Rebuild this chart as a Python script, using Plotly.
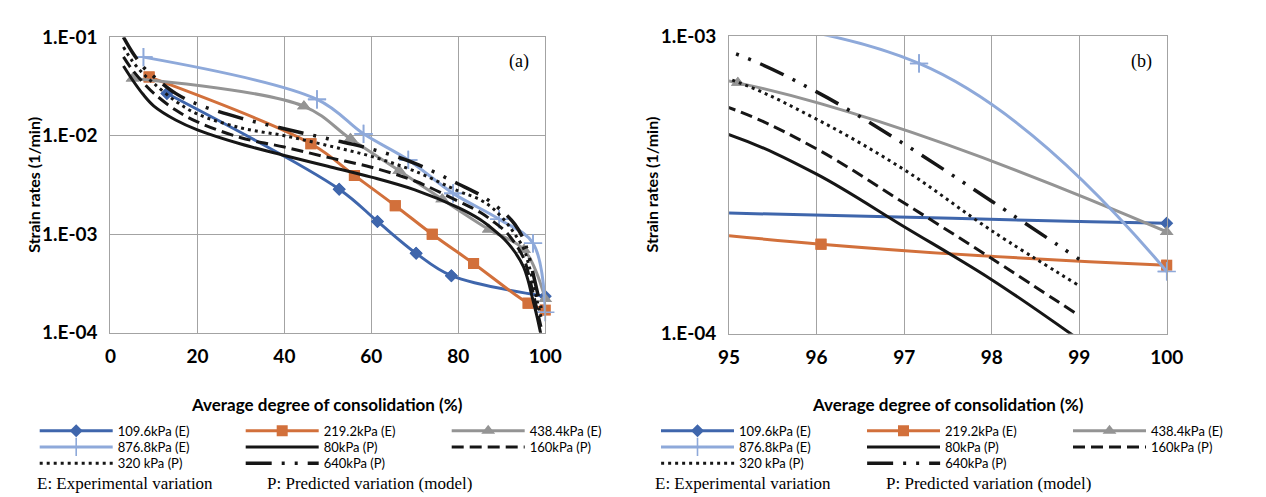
import plotly.graph_objects as go

# ---------------- data ----------------
# Experimental (E) series: average degree of consolidation (%) and strain rate (1/min)
u_e109 = [13.0, 52.6, 61.4, 70.3, 78.4, 100.0]
r_e109 = [0.0268, 0.00287, 0.00135, 0.00064, 0.00038, 0.000235]

u_e219 = [8.9, 46.1, 56.1, 65.5, 74.0, 83.5, 96.05, 100.0]
r_e219 = [0.0395, 0.0083, 0.00395, 0.00195, 0.0010, 0.000505, 0.000200, 0.000170]

u_e438 = [5.1, 44.5, 55.2, 66.4, 76.3, 87.0, 95.1, 100.0]
r_e438 = [0.0381, 0.0199, 0.00929, 0.00442, 0.00226, 0.00112, 0.000697, 0.000220]

u_e876 = [7.6, 47.5, 58.2, 68.5, 78.8, 89.4, 97.17, 100.0]
r_e876 = [0.0627, 0.0234, 0.01045, 0.00568, 0.0026, 0.00142, 0.00081, 0.000162]

# Predicted (P) model curves
u_model = [3, 5, 7.5, 10, 15, 20, 30, 40, 50, 60, 70, 80, 85, 88, 91, 93, 95, 96, 97, 98, 99]
r_p80 = [0.0509, 0.0372, 0.0263, 0.0200, 0.01445, 0.01148, 0.00824, 0.00631, 0.0049, 0.0038,
         0.00282, 0.00186, 0.00141, 0.00112, 0.000851, 0.000661, 0.000467, 0.000344, 0.000229,
         0.000152, 0.0000955]
r_p160 = [0.0631, 0.0468, 0.0347, 0.0269, 0.0182, 0.0138, 0.00955, 0.00767, 0.00603, 0.00479,
          0.00347, 0.00216, 0.00167, 0.00135, 0.00105, 0.000813, 0.000575, 0.000418, 0.000275,
          0.000179, 0.000115]
r_p320 = [0.0794, 0.0575, 0.0427, 0.0339, 0.0224, 0.0166, 0.0120, 0.0100, 0.00794, 0.00617,
          0.00437, 0.00275, 0.00224, 0.00182, 0.00132, 0.00100, 0.000718, 0.000526, 0.000356,
          0.000222, 0.000145]
r_p640 = [0.100, 0.0708, 0.0501, 0.0398, 0.0269, 0.0209, 0.0151, 0.01175, 0.00933, 0.00733,
          0.00525, 0.00324, 0.00251, 0.00204, 0.00158, 0.00126, 0.000889, 0.00065, 0.000434,
          0.000279, 0.000178]

y_tickvals = [1e-4, 1e-3, 1e-2, 1e-1]
y_ticktext = ["1.E-04", "1.E-03", "1.E-02", "1.E-01"]
xa_ticks = [0, 20, 40, 60, 80, 100]
xb_ticks = [95, 96, 97, 98, 99, 100]

# ---------------- styling ----------------
W, H = 1266, 497
def px(x): return x / W
def py(y): return 1 - y / H

BLUE = "#3F66AC"
ORANGE = "#D2703B"
GRAY = "#949494"
LBLUE = "#8EA9DA"
BLACK = "#161616"
GRID = "#A3A3A3"

# (name, x, y, colour, marker, size, legend row)
exp_series = [
    ("109.6kPa (E)", u_e109, r_e109, BLUE, "diamond", 10, 0),
    ("219.2kPa (E)", u_e219, r_e219, ORANGE, "square", 11, 0),
    ("438.4kPa (E)", u_e438, r_e438, GRAY, "triangle-up", 12, 0),
    ("876.8kPa (E)", u_e876, r_e876, LBLUE, "cross-thin", 13, 1),
]
# (name, y, dash, width, legend row)
model_series = [
    ("80kPa (P)", r_p80, "solid", 3, 1),
    ("160kPa (P)", r_p160, "12px,6px", 3, 1),
    ("320 kPa (P)", r_p320, "3px,4px", 3, 2),
    ("640kPa (P)", r_p640, "26px,10px,3px,10px,3px,10px", 3.5, 2),
]

# legend ids: panel (a) rows -> legend, legend3, legend5 ; panel (b) rows -> legend2, legend4, legend6
def legend_id(panel, row):
    n = 1 + panel + 2 * row
    return "legend" if n == 1 else "legend%d" % n

fig = go.Figure()

panels = [("x", "y", 0, 0, 100), ("x2", "y2", 1, 95, 100)]
for xa, ya, pi, lo, hi in panels:
    for name, u, r, col, sym, size, row in exp_series:
        mline = dict(color=col, width=1.6 if sym == "cross-thin" else 0)
        fig.add_trace(go.Scatter(
            x=u, y=r, name=name, xaxis=xa, yaxis=ya, legend=legend_id(pi, row),
            mode="lines+markers", line=dict(color=col, width=3, shape="spline"),
            marker=dict(symbol=sym, size=size, color=col, line=mline),
        ))
        # unclipped markers for the points inside the visible x-range
        pts = [(a, b) for a, b in zip(u, r) if lo <= a <= hi]
        fig.add_trace(go.Scatter(
            x=[p[0] for p in pts], y=[p[1] for p in pts], xaxis=xa, yaxis=ya,
            mode="markers", showlegend=False, cliponaxis=False, hoverinfo="skip",
            marker=dict(symbol=sym, size=size, color=col, line=mline),
        ))
    for name, r, dash, wd, row in model_series:
        fig.add_trace(go.Scatter(
            x=u_model, y=r, name=name, xaxis=xa, yaxis=ya, legend=legend_id(pi, row),
            mode="lines", line=dict(color=BLACK, width=wd, dash=dash, shape="spline"),
        ))

tickfont = dict(family="Lato", size=19, color="#000000", weight="bold")
axis_common = dict(showgrid=True, gridcolor=GRID, gridwidth=1, showline=True, linecolor=GRID,
                   linewidth=1, mirror=True, zeroline=False, ticks="", tickfont=tickfont)

legend_common = dict(orientation="h", traceorder="normal", xanchor="left", yanchor="top",
                     itemwidth=73, entrywidth=118, entrywidthmode="pixels",
                     font=dict(family="Lato", size=13, color="#000000"),
                     bgcolor="rgba(0,0,0,0)")

layout_legends = {}
row_tops = [415, 432, 449]
for pi, lx in [(0, 17), (1, 690)]:
    for row, top in enumerate(row_tops):
        layout_legends[legend_id(pi, row)] = dict(x=px(lx), y=py(top), **legend_common)

fig.update_layout(
    width=W, height=H, margin=dict(l=0, r=0, t=0, b=0),
    paper_bgcolor="white", plot_bgcolor="white",
    xaxis=dict(domain=[px(99), px(570)], range=[0, 100], tickvals=xa_ticks, anchor="y",
               ticklabelstandoff=6, **axis_common),
    yaxis=dict(domain=[py(328), py(18)], type="log", range=[-4, -1], tickvals=y_tickvals,
               ticktext=y_ticktext, anchor="x", ticklabelstandoff=8, **axis_common),
    xaxis2=dict(domain=[px(769), px(1243)], range=[95, 100], tickvals=xb_ticks, anchor="y2",
                ticklabelstandoff=6, **axis_common),
    yaxis2=dict(domain=[py(329), py(17)], type="log", range=[-4, -3], tickvals=y_tickvals,
                ticktext=y_ticktext, anchor="x2", ticklabelstandoff=8, **axis_common),
    showlegend=True,
    **layout_legends,
)

ann = []
title_font = dict(family="Lato", size=17, color="#000000", weight="bold")
serif = dict(family="Liberation Serif", size=18, color="#000000")
serif_foot = dict(family="Liberation Serif", size=17, color="#000000")
for cx, ylab_x, lab, labx in [(334, 16, "(a)", 541), (1006, 685, "(b)", 1216)]:
    ann.append(dict(text="Average degree of consolidation (%)", x=px(cx), y=py(403),
                    xanchor="center", yanchor="middle",
                    xref="paper", yref="paper", showarrow=False, font=title_font))
    ann.append(dict(text="Strain rates (1/min)", x=px(ylab_x), y=py(173), textangle=-90,
                    xanchor="center", yanchor="middle",
                    xref="paper", yref="paper", showarrow=False,
                    font=dict(family="Lato", size=16, color="#000000", weight="bold")))
    ann.append(dict(text=lab, x=px(labx), y=py(43), xanchor="center", yanchor="middle",
                    xref="paper", yref="paper", showarrow=False, font=serif))
for ex, pxx in [(18, 268), (688, 938)]:
    ann.append(dict(text="E: Experimental variation", x=px(ex), y=py(486), xanchor="left",
                    yanchor="middle", xref="paper", yref="paper", showarrow=False,
                    font=serif_foot, borderpad=0))
    ann.append(dict(text="P: Predicted variation (model)", x=px(pxx), y=py(486),
                    xanchor="left", yanchor="middle", xref="paper", yref="paper",
                    showarrow=False, font=serif_foot, borderpad=0))
fig.update_layout(annotations=ann)

fig.write_html("out.html")
